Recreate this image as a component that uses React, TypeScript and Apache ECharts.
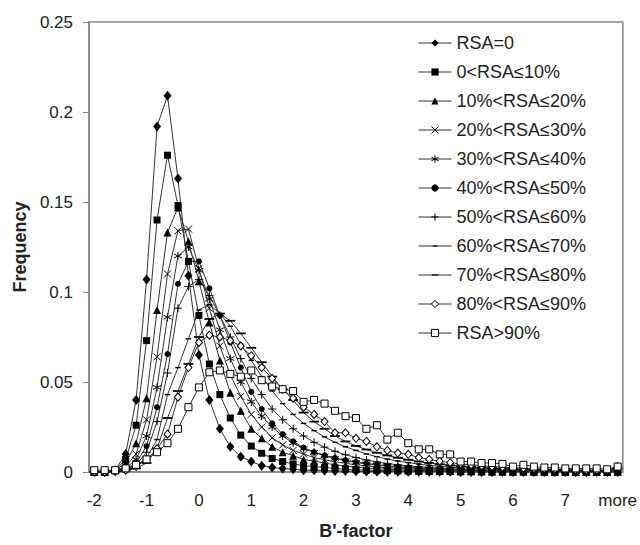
import React, { useEffect, useRef } from 'react';
import * as echarts from 'echarts';

const bins = ['-2','-1.8','-1.6','-1.4','-1.2','-1','-0.8','-0.6','-0.4','-0.2','0','0.2','0.4','0.6','0.8','1','1.2','1.4','1.6','1.8','2','2.2','2.4','2.6','2.8','3','3.2','3.4','3.6','3.8','4','4.2','4.4','4.6','4.8','5','5.2','5.4','5.6','5.8','6','6.2','6.4','6.6','6.8','7','7.2','7.4','7.6','7.8','more'];

const seriesNames = ['RSA=0','0<RSA≤10%','10%<RSA≤20%','20%<RSA≤30%','30%<RSA≤40%','40%<RSA≤50%','50%<RSA≤60%','60%<RSA≤70%','70%<RSA≤80%','80%<RSA≤90%','RSA>90%'];

const rsa0 = [0,0,0.001,0.010,0.040,0.107,0.192,0.209,0.163,0.109,
  0.065,0.040,0.024,0.014,0.0085,0.0058,0.0035,0.0025,0.002,0.0015,
  0.001,0.001,0.0008,0.0006,0.0005,0.0004,0.0003,0.0003,0.0002,0.0002,
  0.0002,0.0001,0.0001,0.0001,0.0001,0,0,0,0,0,
  0,0,0,0,0,0,0,0,0,0,0];
const rsa0to10 = [0,0,0.001,0.007,0.026,0.073,0.140,0.176,0.148,0.117,
  0.087,0.060,0.043,0.030,0.0205,0.0144,0.0104,0.0075,0.0058,0.0045,
  0.0035,0.003,0.0025,0.002,0.0016,0.0013,0.001,0.0009,0.0008,0.0006,
  0.0005,0.0004,0.0004,0.0003,0.0003,0.0002,0.0002,0.0002,0.0001,0.0001,
  0.0001,0.0001,0,0,0,0,0,0,0,0,0];
const rsa10to20 = [0,0,0.001,0.005,0.016,0.041,0.090,0.133,0.147,0.128,
  0.106,0.083,0.062,0.044,0.034,0.024,0.0187,0.014,0.011,0.009,
  0.007,0.006,0.005,0.004,0.0033,0.0027,0.0022,0.0018,0.0015,0.0012,
  0.001,0.0009,0.0008,0.0006,0.0005,0.0004,0.0004,0.0003,0.0003,0.0002,
  0.0002,0.0002,0.0001,0.0001,0.0001,0.0001,0,0,0,0,0.0001];
const rsa20to30 = [0,0,0.001,0.003,0.010,0.029,0.064,0.110,0.134,0.135,
  0.113,0.091,0.070,0.054,0.042,0.032,0.025,0.019,0.015,0.012,
  0.010,0.008,0.0068,0.0057,0.0048,0.004,0.0034,0.0028,0.0024,0.002,
  0.0017,0.0014,0.0012,0.001,0.0008,0.0007,0.0006,0.0005,0.0004,0.0004,
  0.0003,0.0003,0.0002,0.0002,0.0002,0.0001,0.0001,0.0001,0.0001,0.0001,0.0003];
const rsa30to40 = [0,0,0.0005,0.002,0.007,0.020,0.047,0.086,0.120,0.125,
  0.112,0.096,0.079,0.063,0.050,0.039,0.031,0.025,0.020,0.016,
  0.013,0.011,0.009,0.0075,0.0063,0.0053,0.0045,0.0038,0.0032,0.0027,
  0.0023,0.002,0.0017,0.0014,0.0012,0.001,0.0009,0.0008,0.0007,0.0006,
  0.0005,0.0004,0.0004,0.0003,0.0003,0.0003,0.0002,0.0002,0.0002,0.0002,0.0006];
const rsa40to50 = [0,0,0.0005,0.0015,0.005,0.0144,0.036,0.0655,0.1045,0.117,
  0.117,0.102,0.087,0.072,0.058,0.0445,0.035,0.027,0.021,0.017,
  0.0135,0.011,0.0093,0.0078,0.0066,0.0056,0.0048,0.0041,0.0035,0.003,
  0.0026,0.0022,0.0019,0.0016,0.0014,0.0012,0.001,0.0009,0.0008,0.0007,
  0.0006,0.0005,0.0005,0.0004,0.0004,0.0003,0.0003,0.0003,0.0002,0.0002,0.0008];
const rsa50to60 = [0,0,0.0004,0.0012,0.004,0.011,0.028,0.055,0.091,0.103,
  0.107,0.098,0.087,0.075,0.063,0.052,0.043,0.035,0.029,0.024,
  0.020,0.0165,0.0138,0.0115,0.0096,0.008,0.0067,0.0056,0.0047,0.004,
  0.0034,0.0029,0.0025,0.0021,0.0018,0.0015,0.0013,0.0011,0.001,0.0009,
  0.0008,0.0007,0.0006,0.0005,0.0005,0.0004,0.0004,0.0003,0.0003,0.0003,0.001];
const rsa60to70 = [0,0,0.0003,0.001,0.003,0.008,0.018,0.043,0.058,0.074,
  0.090,0.093,0.088,0.081,0.071,0.062,0.053,0.045,0.038,0.032,
  0.027,0.023,0.0195,0.0165,0.014,0.012,0.010,0.0085,0.0072,0.0061,
  0.0052,0.0044,0.0037,0.0032,0.0027,0.0023,0.002,0.0017,0.0015,0.0013,
  0.0011,0.001,0.0009,0.0008,0.0007,0.0006,0.0005,0.0005,0.0004,0.0004,0.0015];
const rsa70to80 = [0,0,0.0002,0.0008,0.002,0.005,0.013,0.030,0.045,0.060,
  0.075,0.085,0.088,0.084,0.077,0.069,0.061,0.053,0.046,0.040,
  0.033,0.028,0.024,0.020,0.017,0.0145,0.0125,0.0107,0.0092,0.0079,
  0.0068,0.0058,0.005,0.0043,0.0037,0.0032,0.0028,0.0024,0.0021,0.0018,
  0.0016,0.0014,0.0012,0.0011,0.001,0.0009,0.0008,0.0007,0.0006,0.0005,0.002];
const rsa80to90 = [0,0,0.0003,0.001,0.003,0.007,0.013,0.021,0.0416,0.058,
  0.072,0.076,0.075,0.073,0.070,0.0646,0.058,0.052,0.046,0.041,
  0.036,0.032,0.028,0.0218,0.0218,0.0187,0.017,0.014,0.012,0.0105,
  0.0098,0.008,0.007,0.006,0.0052,0.0045,0.004,0.0035,0.003,0.0027,
  0.0024,0.0021,0.0019,0.0017,0.0015,0.0013,0.0012,0.0011,0.001,0.0009,0.003];
const rsaOver90 = [0.001,0.001,0.001,0.002,0.004,0.007,0.011,0.016,0.024,0.036,
  0.047,0.0554,0.0564,0.0545,0.053,0.0564,0.051,0.0475,0.046,0.045,
  0.039,0.040,0.038,0.034,0.031,0.030,0.024,0.026,0.018,0.0218,
  0.016,0.0126,0.0126,0.0098,0.0098,0.0058,0.0058,0.005,0.005,0.0045,
  0.003,0.004,0.003,0.0025,0.0025,0.002,0.002,0.002,0.002,0.0015,0.003];

const seriesValues = [rsa0, rsa0to10, rsa10to20, rsa20to30, rsa30to40, rsa40to50, rsa50to60, rsa60to70, rsa70to80, rsa80to90, rsaOver90];

const markers: any[] = [
  { symbol: 'diamond', size: [8, 10], fill: '#000', bw: 0 },
  { symbol: 'rect', size: 7, fill: '#000', bw: 0 },
  { symbol: 'triangle', size: 8, fill: '#000', bw: 0 },
  { symbol: 'path://M0,0L10,10M10,0L0,10', size: 7, fill: '#000', bw: 1 },
  { symbol: 'path://M5,0L5,10M0.7,2.5L9.3,7.5M0.7,7.5L9.3,2.5', size: 8, fill: '#000', bw: 1 },
  { symbol: 'circle', size: 6, fill: '#000', bw: 0 },
  { symbol: 'path://M5,0L5,10M0,5L10,5', size: 8, fill: '#000', bw: 1 },
  { symbol: 'path://M0,0M10,10M2,4.2L8,4.2L8,5.8L2,5.8Z', size: 9, fill: '#000', bw: 0 },
  { symbol: 'path://M0,0M10,10M0.5,4.2L9.5,4.2L9.5,5.8L0.5,5.8Z', size: 11, fill: '#000', bw: 0 },
  { symbol: 'diamond', size: [7, 8], fill: '#fff', bw: 1 },
  { symbol: 'rect', size: 7, fill: '#fff', bw: 1 },
];

const FONT = '"Liberation Sans", Arial, sans-serif';

export default function App() {
  const ref = useRef<HTMLDivElement>(null);
  useEffect(() => {
    if (!ref.current) return;
    const chart = echarts.init(ref.current, undefined, { renderer: 'svg' });
    chart.setOption({
      animation: false,
      textStyle: { fontFamily: FONT },
      grid: { left: 89, right: 16, top: 22, bottom: 69.5, show: true, borderColor: '#888', borderWidth: 1.5 },
      legend: {
        orient: 'vertical', left: 418, top: 34, padding: 0, itemGap: 11,
        itemWidth: 33, itemHeight: 9,
        textStyle: { fontSize: 18, color: '#222', fontFamily: FONT },
        lineStyle: { width: 1 },
        data: seriesNames.map((n, i) => ({
          name: n,
          itemStyle: { color: markers[i].fill, borderColor: '#000', borderWidth: markers[i].bw },
        })),
      },
      xAxis: {
        type: 'category', data: bins, boundaryGap: true,
        axisLine: { lineStyle: { color: '#888', width: 1.5 } },
        axisTick: { interval: 0, length: 5, lineStyle: { color: '#888' } },
        axisLabel: { interval: 4, fontSize: 17, color: '#222', margin: 20, fontFamily: FONT },
        name: "B'-factor", nameLocation: 'middle', nameGap: 50,
        nameTextStyle: { fontSize: 18, fontWeight: 'bold', color: '#222', fontFamily: FONT },
      },
      yAxis: {
        type: 'value', min: 0, max: 0.25, interval: 0.05,
        splitLine: { show: false },
        axisLine: { show: true, lineStyle: { color: '#888', width: 1.5 } },
        axisTick: { show: true, length: 6, lineStyle: { color: '#888' } },
        axisLabel: { fontSize: 17, color: '#222', margin: 16, fontFamily: FONT },
        name: 'Frequency', nameLocation: 'middle', nameGap: 58,
        nameTextStyle: { fontSize: 18, fontWeight: 'bold', color: '#222', fontFamily: FONT },
      },
      series: seriesNames.map((n, i) => ({
        name: n, type: 'line', data: seriesValues[i],
        symbol: markers[i].symbol, symbolSize: markers[i].size,
        showSymbol: true, showAllSymbol: true,
        lineStyle: { color: '#333', width: 1 },
        itemStyle: { color: markers[i].fill, borderColor: '#000', borderWidth: markers[i].bw },
        emphasis: { disabled: true },
      })),
    });
    return () => chart.dispose();
  }, []);
  return <div ref={ref} style={{ position: 'absolute', left: 0, top: 0, width: 640, height: 545, background: '#fff' }} />;
}
